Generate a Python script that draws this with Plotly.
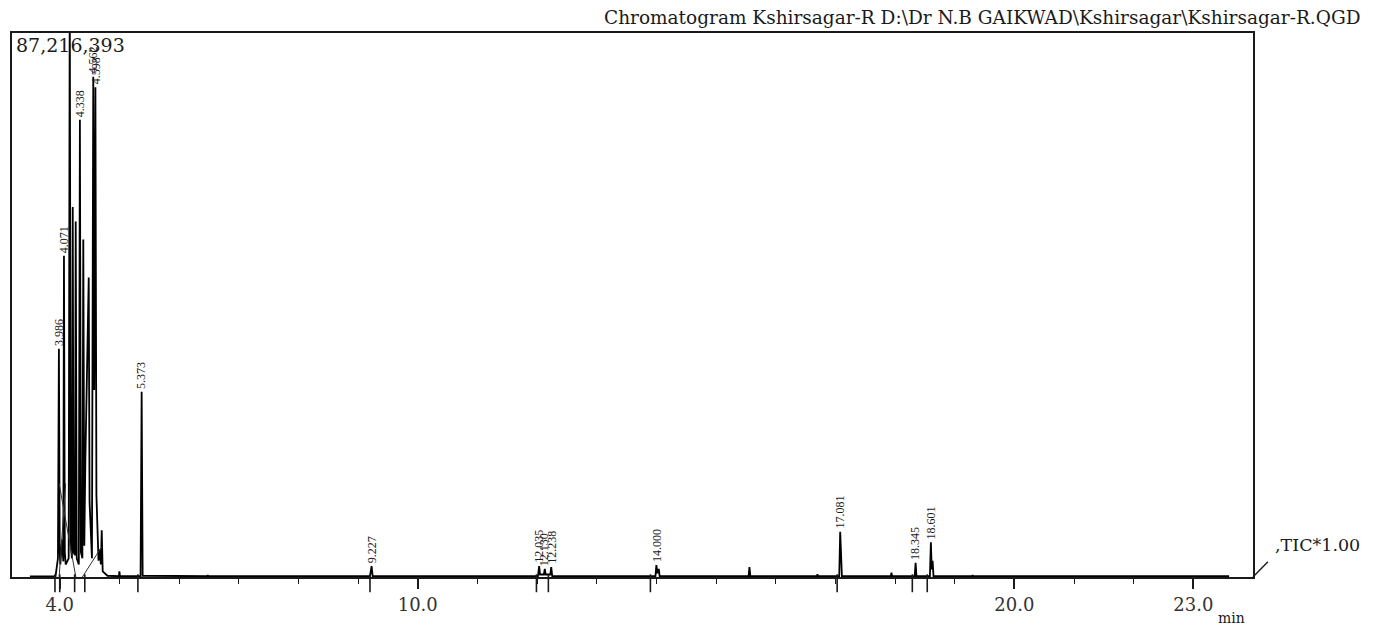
import plotly.graph_objects as go

# ---------------- data (intensity in millions of counts) ----------------
FULL_SCALE = 87.216393  # 87,216,393 counts

trace_time = [3.50, 3.93, 3.970, 3.986, 4.000, 4.010, 4.040, 4.060, 4.071, 4.085, 4.100,
              4.150, 4.168, 4.185, 4.205, 4.218, 4.232, 4.255, 4.268, 4.285, 4.320,
              4.338, 4.355, 4.380, 4.395, 4.412, 4.430, 4.470, 4.486, 4.500, 4.540,
              4.562, 4.578, 4.588, 4.598, 4.615, 4.635, 4.650, 4.668, 4.690, 4.704,
              4.720, 4.80, 4.99, 5.00, 5.01, 5.355, 5.373, 5.390, 6.00, 6.47, 6.48,
              6.49, 9.20, 9.227, 9.245, 12.015, 12.035, 12.050, 12.115, 12.130,
              12.145, 12.222, 12.238, 12.255, 13.985, 14.000, 14.020, 14.040,
              14.055, 15.545, 15.560, 15.575, 16.69, 16.70, 16.71, 17.065, 17.081,
              17.095, 17.110, 17.930, 17.940, 17.950, 18.330, 18.345, 18.360,
              18.585, 18.601, 18.615, 18.630, 18.645, 19.29, 19.30, 19.31, 23.60]
trace_int = [0.10, 0.15, 3.0, 36.6, 4.0, 2.0, 6.0, 2.5, 51.5, 4.0, 2.0,
             3.0, 95.0, 5.0, 3.0, 59.3, 4.0, 3.5, 57.0, 3.0, 2.0,
             73.3, 4.0, 3.0, 54.1, 5.0, 19.0, 36.0, 48.0, 12.0, 3.0,
             80.2, 30.0, 50.0, 78.5, 13.1, 6.1, 2.6, 4.4, 2.0, 7.5,
             0.9, 0.2, 0.12, 0.9, 0.12, 0.12, 29.7, 0.2, 0.12, 0.12, 0.3,
             0.12, 0.12, 1.74, 0.12, 0.12, 1.74, 0.4, 0.4, 1.3,
             0.4, 0.4, 1.6, 0.12, 0.12, 1.9, 0.6, 1.3,
             0.12, 0.12, 1.57, 0.12, 0.12, 0.44, 0.12, 0.12, 7.24,
             1.8, 0.12, 0.12, 0.7, 0.12, 0.12, 2.27, 0.12,
             0.15, 5.58, 1.2, 2.6, 0.12, 0.12, 0.3, 0.12, 0.12]

# integration baselines (t0, i0, t1, i1)
base_t0 = [3.99, 4.10, 4.38]
base_i0 = [15.0, 15.0, 0.0]
base_t1 = [4.27, 3.99, 4.70]
base_i1 = [0.0, 0.0, 4.8]

peak_label = ["3.986", "4.071", "4.338", "4.562", "4.598", "5.373", "9.227", "12.035",
              "12.130", "12.238", "14.000", "17.081", "18.345", "18.601"]
peak_time = [3.986, 4.071, 4.338, 4.562, 4.598, 5.373, 9.227, 12.035,
             12.13, 12.238, 14.000, 17.081, 18.345, 18.601]
peak_int = [36.6, 51.5, 73.3, 80.2, 78.5, 29.7, 1.74, 1.74, 1.3, 1.6, 1.9, 7.24, 2.27, 5.58]

marker_time = [3.92, 4.00, 4.25, 4.42, 5.31, 9.20, 11.99, 12.19, 13.90, 17.03, 18.29, 18.54]

major_ticks = [4.0, 10.0, 20.0, 23.0]
major_text = ["4.0", "10.0", "20.0", "23.0"]
minor_ticks = [5, 6, 7, 8, 9, 11, 12, 13, 14, 15, 16, 17, 18, 19, 21, 22]

title_text = "Chromatogram Kshirsagar-R D:\\Dr N.B GAIKWAD\\Kshirsagar\\Kshirsagar-R.QGD"

# ---------------- figure ----------------
SERIF = "DejaVu Serif"
LAB = "Liberation Serif"
INK = "#1a1a1a"

fig = go.Figure()
fig.add_trace(go.Scatter(x=trace_time, y=trace_int, mode="lines",
                         line=dict(color="black", width=1.8), hoverinfo="skip",
                         showlegend=False))

bx, by = [], []
for a, b, c, d in zip(base_t0, base_i0, base_t1, base_i1):
    bx += [a, c, None]
    by += [b, d, None]
fig.add_trace(go.Scatter(x=bx, y=by, mode="lines", line=dict(color="#333", width=1),
                         hoverinfo="skip", showlegend=False))

for t in marker_time:
    fig.add_shape(type="line", xref="x", yref="paper", x0=t, x1=t, y0=-0.028, y1=0.005,
                  line=dict(color=INK, width=1.6))

for txt, t, v in zip(peak_label, peak_time, peak_int):
    fig.add_annotation(x=t, y=v, xref="x", yref="y", text=txt, showarrow=False,
                       textangle=-90, xanchor="center", yanchor="bottom", yshift=1,
                       font=dict(family=LAB, size=12, color=INK))

fig.add_annotation(xref="paper", yref="paper", x=0.002, y=0.978, text="87,216,393",
                   showarrow=False, xanchor="left", yanchor="middle",
                   font=dict(family=SERIF, size=19, color=INK))
fig.add_annotation(xref="paper", yref="paper", x=1.0885, y=1.029, text=title_text,
                   showarrow=False, xanchor="right", yanchor="middle",
                   font=dict(family=SERIF, size=18.5, color=INK))
fig.add_annotation(xref="paper", yref="paper", x=1.0165, y=0.059, text=",TIC*1.00",
                   showarrow=False, xanchor="left", yanchor="middle",
                   font=dict(family=SERIF, size=17.5, color=INK))
fig.add_annotation(xref="paper", yref="paper", x=0.983, y=-0.075, text="min",
                   showarrow=False, xanchor="center", yanchor="middle",
                   font=dict(family=SERIF, size=14, color=INK))
fig.add_shape(type="line", xref="paper", yref="paper", x0=1.0, y0=0.0, x1=1.012, y1=0.028,
              line=dict(color=INK, width=1.4))

# the page body has an 8px margin: plot box sits at x 12..1253, y 33..577 in the window
fig.update_layout(
    width=1366, height=618,
    margin=dict(l=4, r=121, t=25, b=49),
    paper_bgcolor="white", plot_bgcolor="white",
    xaxis=dict(range=[3.2, 24.0], showgrid=False, zeroline=False,
               showline=True, mirror=True, linecolor=INK, linewidth=2,
               tickmode="array", tickvals=major_ticks, ticktext=major_text,
               ticks="outside", ticklen=10, tickwidth=1.6, tickcolor=INK,
               tickfont=dict(family=SERIF, size=18, color="#333"),
               minor=dict(tickmode="array", tickvals=minor_ticks, ticks="outside",
                          ticklen=5, tickwidth=1.4, tickcolor=INK)),
    yaxis=dict(range=[0, FULL_SCALE], showgrid=False, zeroline=False,
               showline=True, mirror=True, linecolor=INK, linewidth=2,
               showticklabels=False, ticks=""),
)

fig.write_html("out.html")
